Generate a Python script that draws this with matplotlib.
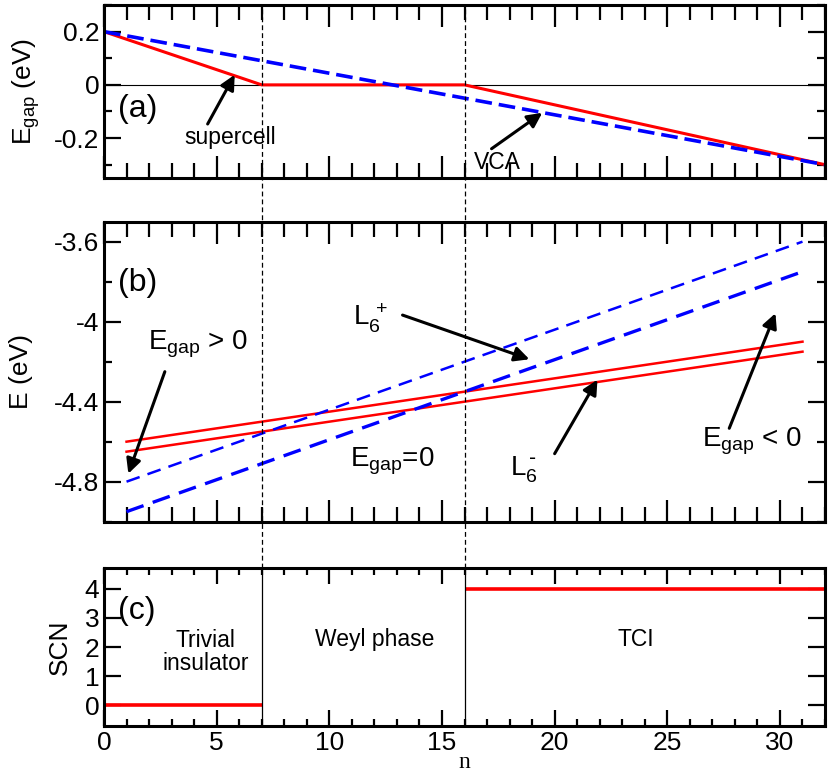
import matplotlib
matplotlib.use("Agg")
import matplotlib.pyplot as plt
import matplotlib.transforms as mtransforms
from matplotlib.lines import Line2D
from matplotlib.ticker import MultipleLocator, FormatStrFormatter

plt.rcParams['font.family'] = ['Liberation Sans', 'DejaVu Sans']
plt.rcParams['mathtext.default'] = 'regular'
plt.rcParams['axes.unicode_minus'] = False
plt.rcParams['lines.scale_dashes'] = False

# panel (a): band gap vs n
n_super = [0, 7, 16, 32]
gap_super = [0.2, 0.0, 0.0, -0.3]
n_vca = [0, 32]
gap_vca = [0.2, -0.3]

# panel (b): band edges (straight lines from n=1 to n=31)
n_b = [1, 31]
blue_upper = [-4.80, -3.60]
blue_lower = [-4.95, -3.75]
red_upper = [-4.60, -4.10]
red_lower = [-4.65, -4.15]

# panel (c): spin Chern number
n_trivial = [0, 7]
scn_trivial = [0, 0]
n_tci = [16, 32]
scn_tci = [4, 4]

n_weyl_start = 7
n_weyl_end = 16

RED = '#ff0000'
BLUE = '#0000ff'

fig = plt.figure(figsize=(8.3, 7.74), dpi=100)
L, R = 0.1253, 0.994
ax_a = fig.add_axes([L, 0.770, R - L, 0.9935 - 0.770])
ax_b = fig.add_axes([L, 0.326, R - L, 0.7136 - 0.326])
ax_c = fig.add_axes([L, 0.0624, R - L, 0.2657 - 0.0624])


def style(ax, xmaj_len=16, xmin_len=10.5):
    for s in ax.spines.values():
        s.set_linewidth(2.2)
    ax.set_xlim(0, 32)
    ax.xaxis.set_major_locator(MultipleLocator(5))
    ax.xaxis.set_minor_locator(MultipleLocator(1))
    ax.tick_params(axis='both', which='both', direction='in', top=True, right=True,
                   width=1.6, labelsize=19)
    ax.tick_params(axis='x', which='major', length=xmaj_len)
    ax.tick_params(axis='x', which='minor', length=xmin_len)
    ax.tick_params(axis='y', which='major', length=12)
    ax.tick_params(axis='y', which='minor', length=6)
    ax.yaxis.set_major_formatter(FormatStrFormatter('%g'))


arrow = dict(arrowstyle='-|>', color='k', lw=2.2, mutation_scale=22,
             shrinkA=0, shrinkB=0)

# ---- (a)
style(ax_a)
ax_a.set_ylim(-0.35, 0.3)
ax_a.yaxis.set_major_locator(MultipleLocator(0.2))
ax_a.yaxis.set_minor_locator(MultipleLocator(0.1))
ax_a.tick_params(axis='x', labelbottom=False)
ax_a.axhline(0, color='k', lw=0.8)
ax_a.plot(n_super, gap_super, color=RED, lw=2.2, solid_capstyle='butt')
ax_a.plot(n_vca, gap_vca, color=BLUE, lw=2.6, dashes=(12, 5))
ax_a.set_ylabel('E$_{gap}$ (eV)', fontsize=19)
ax_a.yaxis.set_label_coords(-0.086, 0.5)
ax_a.text(0.62, -0.09, '(a)', fontsize=23, ha='left', va='center')
ax_a.annotate('', xy=(5.8, 0.038), xytext=(4.6, -0.147), arrowprops=arrow)
ax_a.text(5.59, -0.198, 'supercell', fontsize=16.5, ha='center', va='center')
ax_a.annotate('', xy=(19.45, -0.105), xytext=(17.2, -0.24), arrowprops=arrow)
ax_a.text(17.46, -0.292, 'VCA', fontsize=16.5, ha='center', va='center')

# ---- (b)
style(ax_b)
ax_b.set_ylim(-5.0, -3.5)
ax_b.yaxis.set_major_locator(MultipleLocator(0.4))
ax_b.yaxis.set_minor_locator(MultipleLocator(0.2))
ax_b.tick_params(axis='x', labelbottom=False)
ax_b.plot(n_b, red_upper, color=RED, lw=1.8)
ax_b.plot(n_b, red_lower, color=RED, lw=1.8)
ax_b.plot(n_b, blue_upper, color=BLUE, lw=1.8, dashes=(10, 6))
ax_b.plot(n_b, blue_lower, color=BLUE, lw=2.4, dashes=(13, 7))
ax_b.set_ylabel('E (eV)', fontsize=19)
ax_b.yaxis.set_label_coords(-0.098, 0.5)
ax_b.text(0.62, -3.806, '(b)', fontsize=23, ha='left', va='center')
ax_b.text(1.95, -4.14, 'E$_{gap}$ > 0', fontsize=20, ha='left', va='baseline')
ax_b.annotate('', xy=(1.08, -4.76), xytext=(2.7, -4.25), arrowprops=arrow)
ax_b.text(11.04, -4.017, 'L$_6^{\\,+}$', fontsize=20, ha='left', va='baseline')
ax_b.annotate('', xy=(18.88, -4.188), xytext=(13.25, -3.967), arrowprops=arrow)
ax_b.text(10.9, -4.725, 'E$_{gap}$=0', fontsize=20, ha='left', va='baseline')
ax_b.text(18.0, -4.767, 'L$_6^{\\,\\text{-}}$', fontsize=20, ha='left', va='baseline')
ax_b.annotate('', xy=(21.9, -4.29), xytext=(20.0, -4.66), arrowprops=arrow)
ax_b.text(26.55, -4.625, 'E$_{gap}$ < 0', fontsize=20, ha='left', va='baseline')
ax_b.annotate('', xy=(29.8, -3.958), xytext=(27.75, -4.533), arrowprops=arrow)

# ---- (c)
style(ax_c, xmaj_len=11.5, xmin_len=5)
ax_c.set_ylim(-0.7, 4.7)
ax_c.yaxis.set_major_locator(MultipleLocator(1))
ax_c.plot(n_trivial, scn_trivial, color=RED, lw=2.6, solid_capstyle='butt')
ax_c.plot(n_tci, scn_tci, color=RED, lw=2.6, solid_capstyle='butt')
ax_c.axvline(n_weyl_start, color='k', lw=0.9)
ax_c.axvline(n_weyl_end, color='k', lw=0.9)
ax_c.set_ylabel('SCN', fontsize=19)
ax_c.yaxis.set_label_coords(-0.044, 0.5)
ax_c.set_xlabel('n', fontsize=17, family=['Liberation Serif', 'DejaVu Serif'], labelpad=-2)
ax_c.text(0.62, 3.22, '(c)', fontsize=23, ha='left', va='center')
ax_c.text(4.5, 1.83, 'Trivial\ninsulator', fontsize=16.5, ha='center', va='center',
          multialignment='center', linespacing=1.0)
ax_c.text(12.0, 2.26, 'Weyl phase', fontsize=16.5, ha='center', va='center')
ax_c.text(23.6, 2.26, 'TCI', fontsize=16.5, ha='center', va='center')

# dashed phase boundaries running through panels (a) and (b)
trans = mtransforms.blended_transform_factory(ax_a.transData, fig.transFigure)
for xb in (n_weyl_start, n_weyl_end):
    fig.add_artist(Line2D([xb, xb], [0.2657, 0.9935], transform=trans, color='k',
                          lw=0.9, dashes=(3.5, 2.2), zorder=5))

fig.savefig('out.png', dpi=100)
